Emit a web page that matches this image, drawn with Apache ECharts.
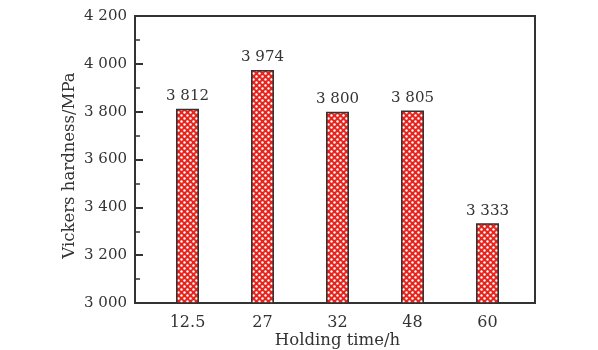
<!DOCTYPE html>
<html><head><meta charset="utf-8">
<script src="https://cdn.jsdelivr.net/npm/echarts@6/dist/echarts.min.js"></script>
<style>html,body{margin:0;padding:0;background:#fff}#c{width:598px;height:350px}</style>
</head><body><div id="c"></div>
<script>
const categories = ['12.5', '27', '32', '48', '60'];
const hardness = [3812, 3974, 3800, 3805, 3333];
const yTicks = [3000, 3200, 3400, 3600, 3800, 4000, 4200];

function fmt(v){ const s = String(v); return s.length > 3 ? s.slice(0, s.length-3) + ' ' + s.slice(-3) : s; }

const pc = document.createElement('canvas');
pc.width = 6; pc.height = 6;
const g = pc.getContext('2d');
g.fillStyle = '#e8231c'; g.fillRect(0,0,6,6);
g.fillStyle = '#ffffff';
[[1.5,1.5],[4.5,4.5]].forEach(p=>{ g.beginPath(); g.arc(p[0],p[1],1.2,0,Math.PI*2); g.fill(); });

const font = 'DejaVu Serif';
const chart = echarts.init(document.getElementById('c'));
chart.setOption({
  backgroundColor: '#fff',
  animation: false,
  grid: [
    {left: 135, right: 63, top: 16, bottom: 47, show: true, borderColor: '#333', borderWidth: 2, backgroundColor: 'transparent', outerBoundsMode: 'none', containLabel: false},
    {left: 150, right: 73, top: 16, bottom: 47, outerBoundsMode: 'none', containLabel: false}
  ],
  xAxis: [
    {gridIndex: 0, type: 'value', show: false, min: 0, max: 1},
    {gridIndex: 1, type: 'category', data: categories,
     axisLine: {show: false}, axisTick: {show: false},
     axisLabel: {fontFamily: font, fontSize: 16, color: '#333', margin: 12},
     name: 'Holding time/h', nameLocation: 'middle', nameGap: 29, nameMoveOverlap: false,
     nameTextStyle: {fontFamily: font, fontSize: 16.5, color: '#333'}}
  ],
  yAxis: [
    {gridIndex: 0, type: 'value', min: yTicks[0], max: yTicks[yTicks.length-1], interval: 200,
     axisLine: {show: true, lineStyle: {color: '#333', width: 2}},
     axisTick: {show: true, inside: true, length: 8, lineStyle: {color: '#333', width: 2}},
     minorTick: {show: true, splitNumber: 2, length: 5, lineStyle: {color: '#333', width: 1.5}},
     splitLine: {show: false},
     axisLabel: {fontFamily: font, fontSize: 15, color: '#333', margin: 8, formatter: v => fmt(v)},
     name: 'Vickers hardness/MPa', nameLocation: 'middle', nameGap: 57, nameRotate: 90, nameMoveOverlap: false,
     nameTextStyle: {fontFamily: font, fontSize: 16.5, color: '#333', padding: [0, 12, 0, 0]}},
    {gridIndex: 1, type: 'value', min: yTicks[0], max: yTicks[yTicks.length-1], show: false}
  ],
  series: [{
    type: 'bar', xAxisIndex: 1, yAxisIndex: 1, data: hardness, barWidth: 23,
    itemStyle: {color: {image: pc, repeat: 'repeat'}, borderColor: '#333', borderWidth: 1.5},
    label: {show: true, position: 'top', distance: 5, fontFamily: font, fontSize: 15, color: '#333', formatter: p => fmt(p.value)}
  }]
});
</script></body></html>
